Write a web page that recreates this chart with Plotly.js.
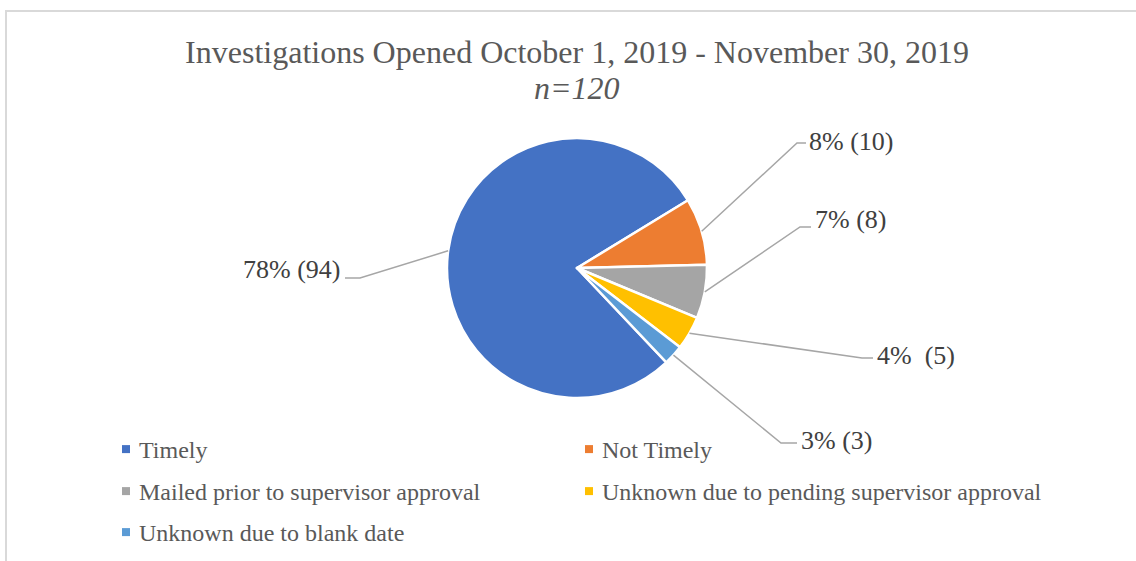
<!DOCTYPE html>
<html>
<head>
<meta charset="utf-8">
<script src="https://cdn.plot.ly/plotly-3.0.1.min.js"></script>
<style>
  html, body { margin: 0; padding: 0; background: #fff; }
  #wrap { position: relative; width: 1136px; height: 561px; overflow: hidden; }
  #frame { position: absolute; left: 5px; top: 10px; width: 1200px; height: 700px;
           border-left: 2px solid #d9d9d9; border-top: 2px solid #d9d9d9; pointer-events: none; }
  #chart { position: absolute; left: 0; top: 0; width: 1136px; height: 561px; }
  #chart .legendpoints path { transform: translate(27px, 0px); }
</style>
</head>
<body>
<div id="wrap">
  <div id="frame"></div>
  <div id="chart"></div>
</div>
<script>
// ---- data ----
const categories = ['Timely', 'Not Timely', 'Mailed prior to supervisor approval',
                    'Unknown due to pending supervisor approval', 'Unknown due to blank date'];
const counts = [94, 10, 8, 5, 3];
const dataLabels = ['78% (94)', '8% (10)', '7% (8)', '4%\u00a0 (5)', '3% (3)'];
const colors = ['#4472C4', '#ED7D31', '#A5A5A5', '#FFC000', '#5B9BD5'];

// ---- layout constants ----
const W = 1136, H = 561;
const CX = 577, CY = 268, R = 130;
const ROT = 136.6;
const SERIF = 'Liberation Serif, Times New Roman, serif';
// label text anchor (px) and elbow (px) for each slice
const labelLayout = [
  { tx: 342, ty: 270, ex: 360, ey: 278, hx: 345, side: 'right' },
  { tx: 807, ty: 141, ex: 797, ey: 143, hx: 806, side: 'left' },
  { tx: 813, ty: 220, ex: 800, ey: 227, hx: 811, side: 'left' },
  { tx: 875, ty: 355, ex: 862, ey: 358, hx: 873, side: 'left' },
  { tx: 799, ty: 440, ex: 781, ey: 443, hx: 797, side: 'left' }
];
// legend grid: left px of each entry and top px of its row
const legendCols = [99, 562, 99, 562, 99];
const legendTops = [427, 427, 469, 469, 510];

const px = x => x / W;
const py = y => 1 - y / H;

const total = counts.reduce((a, b) => a + b, 0);
let cum = 0;
const shapes = [];
const annotations = [];
counts.forEach((v, i) => {
  const mid = (ROT + (cum + v / 2) / total * 360) * Math.PI / 180;
  cum += v;
  const sx = CX + R * Math.sin(mid);
  const sy = CY - R * Math.cos(mid);
  const L = labelLayout[i];
  shapes.push({
    type: 'path', xref: 'paper', yref: 'paper',
    path: `M${px(sx)},${py(sy)} L${px(L.ex)},${py(L.ey)} L${px(L.hx)},${py(L.ey)}`,
    line: { color: '#A6A6A6', width: 1.5 }
  });
  annotations.push({
    xref: 'paper', yref: 'paper', x: px(L.tx), y: py(L.ty),
    xanchor: L.side === 'left' ? 'left' : 'right', yanchor: 'middle',
    text: dataLabels[i], showarrow: false,
    font: { family: SERIF, size: 26, color: '#404040' }
  });
});

annotations.push({
  xref: 'paper', yref: 'paper', x: px(CX), y: py(88),
  xanchor: 'center', yanchor: 'middle', showarrow: false,
  text: '<i>n=120</i>',
  font: { family: SERIF, size: 32, color: '#595959' }
});

const pieTrace = {
  type: 'pie',
  labels: categories,
  values: counts,
  sort: false,
  direction: 'clockwise',
  rotation: ROT,
  textinfo: 'none',
  hoverinfo: 'label+value+percent',
  showlegend: false,
  marker: { colors: colors, line: { color: '#ffffff', width: 2.5 } },
  domain: { x: [px(CX - R), px(CX + R)], y: [py(CY + R), py(CY - R)] },
  automargin: false
};

const legendId = i => (i === 0 ? 'legend' : 'legend' + (i + 1));

// legend entries (one per category), no data drawn
const legendTraces = categories.map((name, i) => ({
  type: 'scatter', mode: 'markers',
  x: [null], y: [null],
  name: name,
  legend: legendId(i),
  marker: { symbol: 'square', size: 8, color: colors[i] },
  hoverinfo: 'skip'
}));

const layout = {
  width: W, height: H,
  margin: { l: 0, r: 0, t: 0, b: 0 },
  paper_bgcolor: 'rgba(0,0,0,0)',
  plot_bgcolor: 'rgba(0,0,0,0)',
  font: { family: SERIF, color: '#595959' },
  title: {
    text: 'Investigations Opened October 1, 2019 - November 30, 2019',
    font: { family: SERIF, size: 32, color: '#595959' },
    x: px(CX), xanchor: 'center', xref: 'container',
    y: py(52), yanchor: 'middle', yref: 'container'
  },
  xaxis: { visible: false },
  yaxis: { visible: false },
  showlegend: true,
  shapes: shapes,
  annotations: annotations
};

categories.forEach((_, i) => {
  layout[legendId(i)] = {
    orientation: 'h',
    x: px(legendCols[i]), xanchor: 'left',
    y: py(legendTops[i]), yanchor: 'top',
    font: { family: SERIF, size: 24, color: '#595959' },
    bgcolor: 'rgba(0,0,0,0)'
  };
});

Plotly.newPlot('chart', [pieTrace].concat(legendTraces), layout, { displayModeBar: false, staticPlot: true });
</script>
</body>
</html>
